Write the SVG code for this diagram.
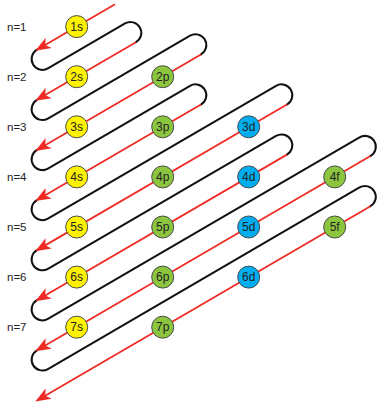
<svg xmlns="http://www.w3.org/2000/svg" width="378" height="407" viewBox="0 0 378 407">
<style>
.blk{fill:none;stroke:#111;stroke-width:2;stroke-linecap:round}
.red{fill:none;stroke:#EE2A24;stroke-width:1.8;marker-end:url(#arr)}
.orb circle{stroke:#4a4a4a;stroke-width:1}
.s circle{fill:#FFF200}
.p circle,.f circle{fill:#8CC63F}
.d circle{fill:#00AEEF}
text{font-family:"Liberation Sans",Arial,sans-serif;fill:#222}
.orb text{font-size:12px;text-anchor:middle}
.lbl{font-size:11.5px}
</style>
<defs>
<marker id="arr" markerUnits="userSpaceOnUse" viewBox="-17 -7 19 14" markerWidth="19" markerHeight="14" refX="-2" refY="0" orient="auto">
<path d="M0,0 L-15.5,-6 L-11.5,0 L-15.5,6 Z" fill="#EE2A24"/>
</marker>
</defs>
<g id="connectors">
<path class="blk" d="M37.003,49.728 A10.82,10.82 0 0 0 47.897,68.428 L125.053,23.483 A10.82,10.82 0 0 1 135.947,42.183
M37.003,99.828 A10.82,10.82 0 0 0 47.897,118.528 L190.053,35.717 A10.82,10.82 0 0 1 200.947,54.417
M37.003,149.928 A10.82,10.82 0 0 0 47.897,168.628 L190.053,85.817 A10.82,10.82 0 0 1 200.947,104.517
M37.003,200.028 A10.82,10.82 0 0 0 47.897,218.728 L276.053,85.817 A10.82,10.82 0 0 1 286.947,104.517
M37.003,250.128 A10.82,10.82 0 0 0 47.897,268.828 L276.053,135.917 A10.82,10.82 0 0 1 286.947,154.617
M37.003,300.228 A10.82,10.82 0 0 0 47.897,318.928 L359.553,137.373 A10.82,10.82 0 0 1 370.447,156.073
M37.003,350.328 A10.82,10.82 0 0 0 47.897,369.028 L359.553,187.473 A10.82,10.82 0 0 1 370.447,206.173"/>
<path class="red" d="M115,4.288 L37.003,49.728"/>
<path class="red" d="M135.947,42.183 L37.003,99.828"/>
<path class="red" d="M200.947,54.417 L37.003,149.928"/>
<path class="red" d="M200.947,104.517 L37.003,200.028"/>
<path class="red" d="M286.947,104.517 L37.003,250.128"/>
<path class="red" d="M286.947,154.617 L37.003,300.228"/>
<path class="red" d="M370.447,156.073 L37.003,350.328"/>
<path class="red" d="M370.447,206.173 L37.003,400.426"/>
</g>
<g id="labels">
<text class="lbl" x="7" y="30.6">n=1</text>
<text class="lbl" x="7" y="80.7">n=2</text>
<text class="lbl" x="7" y="130.8">n=3</text>
<text class="lbl" x="7" y="180.9">n=4</text>
<text class="lbl" x="7" y="231">n=5</text>
<text class="lbl" x="7" y="281.1">n=6</text>
<text class="lbl" x="7" y="331.2">n=7</text>
</g>
<g id="o1s" class="orb s"><circle cx="76.7" cy="26.6" r="11"/><text x="76.7" y="30.8">1s</text></g>
<g id="o2s" class="orb s"><circle cx="76.7" cy="76.7" r="11"/><text x="76.7" y="80.9">2s</text></g>
<g id="o2p" class="orb p"><circle cx="162.7" cy="76.7" r="11"/><text x="162.7" y="80.9">2p</text></g>
<g id="o3s" class="orb s"><circle cx="76.7" cy="126.8" r="11"/><text x="76.7" y="131">3s</text></g>
<g id="o3p" class="orb p"><circle cx="162.7" cy="126.8" r="11"/><text x="162.7" y="131">3p</text></g>
<g id="o3d" class="orb d"><circle cx="248.7" cy="126.8" r="11"/><text x="248.7" y="131">3d</text></g>
<g id="o4s" class="orb s"><circle cx="76.7" cy="176.9" r="11"/><text x="76.7" y="181.1">4s</text></g>
<g id="o4p" class="orb p"><circle cx="162.7" cy="176.9" r="11"/><text x="162.7" y="181.1">4p</text></g>
<g id="o4d" class="orb d"><circle cx="248.7" cy="176.9" r="11"/><text x="248.7" y="181.1">4d</text></g>
<g id="o4f" class="orb f"><circle cx="334.7" cy="176.9" r="11"/><text x="334.7" y="181.1">4f</text></g>
<g id="o5s" class="orb s"><circle cx="76.7" cy="227" r="11"/><text x="76.7" y="231.2">5s</text></g>
<g id="o5p" class="orb p"><circle cx="162.7" cy="227" r="11"/><text x="162.7" y="231.2">5p</text></g>
<g id="o5d" class="orb d"><circle cx="248.7" cy="227" r="11"/><text x="248.7" y="231.2">5d</text></g>
<g id="o5f" class="orb f"><circle cx="334.7" cy="227" r="11"/><text x="334.7" y="231.2">5f</text></g>
<g id="o6s" class="orb s"><circle cx="76.7" cy="277.1" r="11"/><text x="76.7" y="281.3">6s</text></g>
<g id="o6p" class="orb p"><circle cx="162.7" cy="277.1" r="11"/><text x="162.7" y="281.3">6p</text></g>
<g id="o6d" class="orb d"><circle cx="248.7" cy="277.1" r="11"/><text x="248.7" y="281.3">6d</text></g>
<g id="o7s" class="orb s"><circle cx="76.7" cy="327.2" r="11"/><text x="76.7" y="331.4">7s</text></g>
<g id="o7p" class="orb p"><circle cx="162.7" cy="327.2" r="11"/><text x="162.7" y="331.4">7p</text></g>
</svg>
